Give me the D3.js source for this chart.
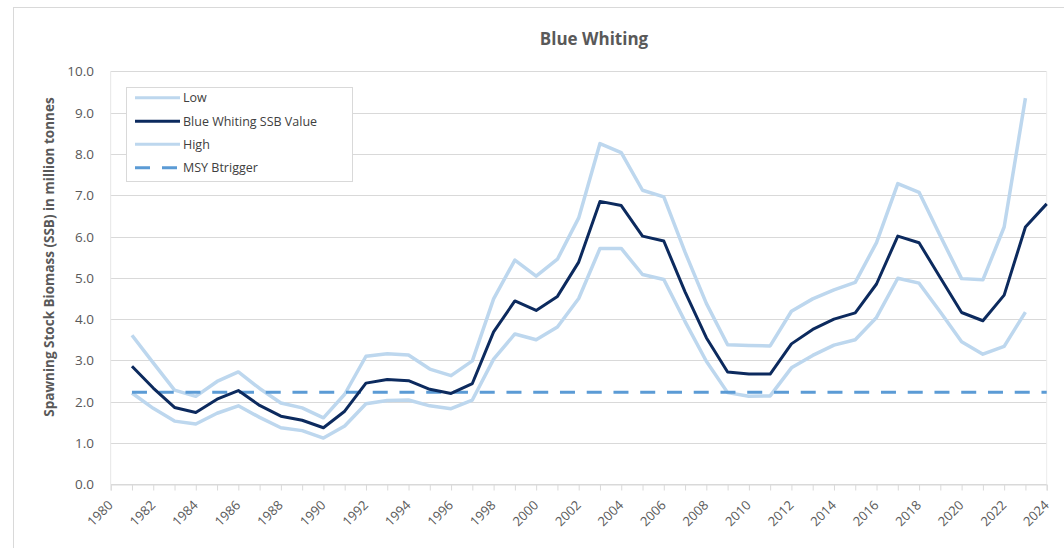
<!DOCTYPE html>
<html>
<head>
<meta charset="utf-8">
<script src="https://cdn.jsdelivr.net/npm/d3@7"></script>
<style>
  body { margin: 0; background: #fff; }
  svg { font-family: "Open Sans", "Noto Sans", sans-serif; }
</style>
</head>
<body>
<svg width="1064" height="548"></svg>
<script>
var years = d3.range(1981, 2025);

var ssb = [2.86, 2.33, 1.86, 1.74, 2.06, 2.27, 1.91, 1.65, 1.55, 1.37,
  1.77, 2.45, 2.54, 2.51, 2.30, 2.20, 2.44, 3.69, 4.44, 4.21,
  4.55, 5.38, 6.85, 6.75, 6.01, 5.89, 4.66, 3.55, 2.72, 2.67,
  2.67, 3.40, 3.75, 4.00, 4.15, 4.85, 6.01, 5.85, 5.00, 4.16,
  3.96, 4.58, 6.23, 6.79];

var high = [3.61, 2.94, 2.28, 2.13, 2.49, 2.72, 2.32, 1.97, 1.85, 1.61,
  2.18, 3.10, 3.16, 3.13, 2.79, 2.63, 2.99, 4.49, 5.43, 5.04,
  5.45, 6.45, 8.25, 8.03, 7.12, 6.96, 5.62, 4.38, 3.38, 3.36,
  3.35, 4.19, 4.49, 4.71, 4.89, 5.85, 7.28, 7.07, 6.01, 4.98,
  4.95, 6.23, 9.35];

var low = [2.21, 1.84, 1.53, 1.46, 1.72, 1.90, 1.62, 1.37, 1.30, 1.12,
  1.41, 1.95, 2.03, 2.04, 1.90, 1.83, 2.04, 3.03, 3.64, 3.50,
  3.81, 4.50, 5.71, 5.71, 5.08, 4.96, 3.94, 2.98, 2.22, 2.13,
  2.14, 2.82, 3.12, 3.37, 3.50, 4.04, 4.99, 4.87, 4.17, 3.45,
  3.15, 3.34, 4.17];

var msyBtrigger = 2.23;

var xTicks = d3.range(1980, 2025, 2),
    yTicks = d3.range(0, 11, 1);

var svg = d3.select("svg"),
    plotLeft = 110.7, plotRight = 1046.7, plotTop = 71.3, plotBottom = 484.3;

var x = d3.scaleLinear().domain([1980, 2024]).range([plotLeft, plotRight]),
    y = d3.scaleLinear().domain([0, 10]).range([plotBottom, plotTop]);

// chart frame
svg.append("rect")
    .attr("x", 13.5).attr("y", 7.5)
    .attr("width", 1070).attr("height", 560)
    .attr("fill", "#fff")
    .attr("stroke", "#d9d9d9");

svg.append("text")
    .attr("x", 594).attr("y", 45)
    .attr("text-anchor", "middle")
    .attr("fill", "#595959")
    .attr("font-size", 17)
    .attr("font-weight", "bold")
    .text("Blue Whiting");

// gridlines
svg.append("g").selectAll("line")
  .data(yTicks)
  .join("line")
    .attr("x1", plotLeft).attr("x2", plotRight)
    .attr("y1", d => Math.round(y(d)) + 0.5)
    .attr("y2", d => Math.round(y(d)) + 0.5)
    .attr("stroke", "#d9d9d9");

svg.append("line")
    .attr("x1", plotRight).attr("x2", plotRight)
    .attr("y1", plotTop).attr("y2", plotBottom)
    .attr("stroke", "#ececec");

// y axis labels
svg.append("g").selectAll("text")
  .data(yTicks)
  .join("text")
    .attr("x", 94)
    .attr("y", d => y(d) + 5)
    .attr("text-anchor", "end")
    .attr("fill", "#595959")
    .attr("font-size", 13.5)
    .text(d => d.toFixed(1));

svg.append("text")
    .attr("transform", "translate(54,257) rotate(-90)")
    .attr("text-anchor", "middle")
    .attr("fill", "#595959")
    .attr("font-size", 13.5)
    .attr("font-weight", "bold")
    .text("Spawning Stock Biomass (SSB) in million tonnes");

// x axis
var xAxis = svg.append("g")
    .attr("transform", "translate(0," + (Math.round(plotBottom) + 0.5) + ")")
    .call(d3.axisBottom(x)
      .tickValues(d3.range(1980, 2025))
      .tickSize(6)
      .tickFormat(""));
xAxis.select(".domain").attr("stroke", "#d9d9d9");
xAxis.selectAll(".tick line").attr("stroke", "#d9d9d9");

svg.append("line")
    .attr("x1", plotLeft).attr("x2", plotLeft)
    .attr("y1", plotTop).attr("y2", plotBottom)
    .attr("stroke", "#e6e6e6");

svg.append("g").selectAll("text")
  .data(xTicks)
  .join("text")
    .attr("transform", d => "translate(" + (x(d) + 3) + ",506) rotate(-45)")
    .attr("text-anchor", "end")
    .attr("fill", "#595959")
    .attr("font-size", 13)
    .text(d => d);

var line = d3.line()
    .x((d, i) => x(years[i]))
    .y(d => y(d));

svg.append("path")
    .attr("d", line(low))
    .attr("fill", "none")
    .attr("stroke", "#bdd7ee")
    .attr("stroke-width", 3.5)
    .attr("stroke-linejoin", "round");

svg.append("path")
    .attr("d", line(high))
    .attr("fill", "none")
    .attr("stroke", "#bdd7ee")
    .attr("stroke-width", 3.5)
    .attr("stroke-linejoin", "round");

svg.append("line")
    .attr("x1", x(1981)).attr("x2", x(2024))
    .attr("y1", y(msyBtrigger)).attr("y2", y(msyBtrigger))
    .attr("stroke", "#5b9bd5")
    .attr("stroke-width", 3)
    .attr("stroke-dasharray", "15,11.75");

svg.append("path")
    .attr("d", line(ssb))
    .attr("fill", "none")
    .attr("stroke", "#0c2a5e")
    .attr("stroke-width", 3)
    .attr("stroke-linejoin", "round");

// legend
var legendItems = [
  {name: "Low", color: "#bdd7ee", dash: null},
  {name: "Blue Whiting SSB Value", color: "#0c2a5e", dash: null},
  {name: "High", color: "#bdd7ee", dash: null},
  {name: "MSY Btrigger", color: "#5b9bd5", dash: "15,12"}
];

svg.append("rect")
    .attr("x", 126.5).attr("y", 87.5)
    .attr("width", 226).attr("height", 94)
    .attr("fill", "#fff")
    .attr("stroke", "#d9d9d9");

var legend = svg.append("g").selectAll("g")
  .data(legendItems)
  .join("g")
    .attr("transform", (d, i) => "translate(0," + [97.7, 121.3, 144.3, 167.7][i] + ")");

legend.append("line")
    .attr("x1", 135).attr("x2", 180)
    .attr("stroke", d => d.color)
    .attr("stroke-width", 3)
    .attr("stroke-dasharray", d => d.dash);

legend.append("text")
    .attr("x", 183).attr("y", 4.5)
    .attr("fill", "#404040")
    .attr("font-size", 12.5)
    .text(d => d.name);
</script>
</body>
</html>
